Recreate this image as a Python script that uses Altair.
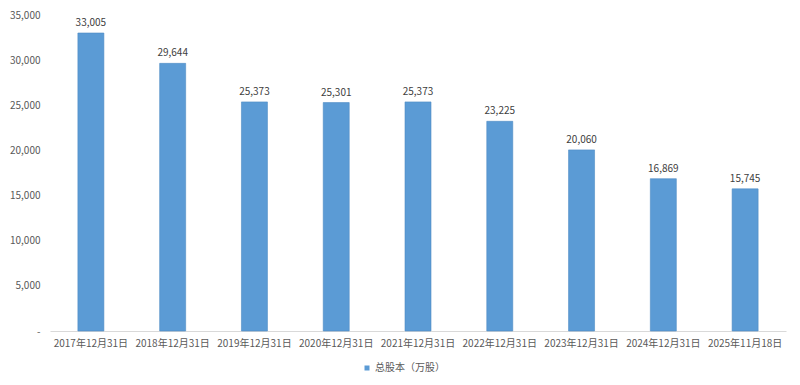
import altair as alt
import pandas as pd

categories = ["2017年12月31日", "2018年12月31日", "2019年12月31日", "2020年12月31日",
              "2021年12月31日", "2022年12月31日", "2023年12月31日", "2024年12月31日",
              "2025年11月18日"]
values = [33005, 29644, 25373, 25301, 25373, 23225, 20060, 16869, 15745]
series_name = "总股本（万股）"
y_ticks = [0, 5000, 10000, 15000, 20000, 25000, 30000, 35000]

df = pd.DataFrame({"date": categories, "value": values, "series": series_name})
df["label"] = df["value"].map(lambda v: f"{v:,}")

FONT = "Noto Sans CJK SC"
TXT = "#595959"

x = alt.X("date:N", sort=categories, title=None,
          scale=alt.Scale(paddingInner=0, paddingOuter=0),
          axis=alt.Axis(labelAngle=0, labelFont=FONT, labelFontSize=10, labelColor=TXT,
                        domainColor="#D9D9D9", ticks=False, labelPadding=7))
y = alt.Y("value:Q", title=None,
          scale=alt.Scale(domain=[0, 35000], nice=False),
          axis=alt.Axis(values=y_ticks, grid=False, domain=False, ticks=False,
                        labelFont=FONT, labelFontSize=10, labelColor=TXT, labelPadding=10,
                        labelExpr="datum.value == 0 ? '-' : format(datum.value, ',')"))

bars = alt.Chart(df).mark_bar(size=26, stroke="#4F8BC4", strokeWidth=0.6).encode(
    x=x, y=y,
    color=alt.Color("series:N", scale=alt.Scale(range=["#5B9BD5"]), title=None,
                    legend=alt.Legend(orient="none", legendX=312, legendY=348,
                                      symbolType="square", symbolSize=25, labelOffset=3,
                                      labelFont=FONT, labelFontSize=10, labelColor=TXT,
                                      symbolStrokeWidth=0))
)

labels = alt.Chart(df).mark_text(dy=-10, font=FONT, fontSize=10, color="#404040").encode(
    x=alt.X("date:N", sort=categories), y="value:Q", text="label:N"
)

chart = (bars + labels).properties(
    width=736, height=316,
    padding={"left": 42, "top": 7, "right": 6, "bottom": 46},
    autosize=alt.AutoSizeParams(type="none"),
).configure_view(stroke=None)

chart.save("out.html", embed_options={"renderer": "svg", "actions": False})
